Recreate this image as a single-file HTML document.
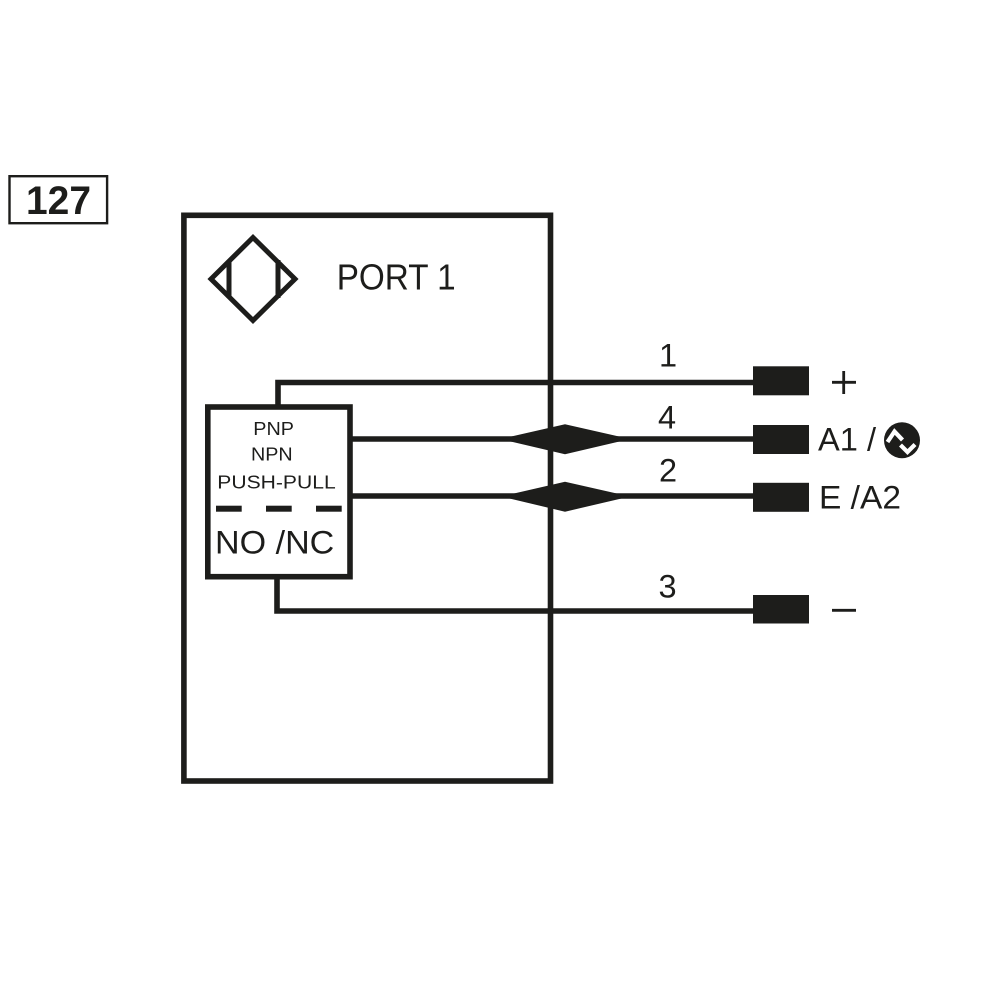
<!DOCTYPE html>
<html>
<head>
<meta charset="utf-8">
<style>
html,body{margin:0;padding:0;background:#fff;}
svg{display:block;}
text{font-family:"Liberation Sans",Arial,sans-serif;fill:#1d1d1b;}
</style>
</head>
<body>
<svg width="1000" height="1000" viewBox="0 0 1000 1000" xmlns="http://www.w3.org/2000/svg">
<rect x="0" y="0" width="1000" height="1000" fill="#fff"/>

<!-- 127 label box -->
<rect x="9.5" y="176.2" width="97.6" height="47" fill="none" stroke="#1d1d1b" stroke-width="2.4"/>
<text x="26" y="214" font-size="40" font-weight="bold" textLength="65" lengthAdjust="spacingAndGlyphs">127</text>

<!-- outer box -->
<rect x="183.9" y="215.3" width="366.6" height="565.7" fill="none" stroke="#1d1d1b" stroke-width="5.6"/>

<!-- sensor symbol -->
<polygon points="211,279 253,237.5 295,279 253,320.5" fill="none" stroke="#1d1d1b" stroke-width="5"/>
<line x1="229" y1="260" x2="229" y2="298" stroke="#1d1d1b" stroke-width="5"/>
<line x1="278" y1="260" x2="278" y2="298" stroke="#1d1d1b" stroke-width="5"/>

<text x="336.7" y="289.3" font-size="36" textLength="119" lengthAdjust="spacingAndGlyphs">PORT 1</text>

<!-- wires -->
<g fill="none" stroke="#1d1d1b" stroke-width="5.6">
<path d="M278 407 V382.5 H755"/>
<path d="M277 577 V611 H755"/>
<path d="M350 439 H755"/>
<path d="M350 496 H755"/>
</g>

<!-- inner box -->
<rect x="207.8" y="407" width="142.2" height="169.7" fill="#fff" stroke="#1d1d1b" stroke-width="5.6"/>
<text x="253.3" y="435" font-size="18.6" textLength="40.7" lengthAdjust="spacingAndGlyphs">PNP</text>
<text x="251" y="460.7" font-size="18.6" textLength="41.7" lengthAdjust="spacingAndGlyphs">NPN</text>
<text x="217.3" y="488.3" font-size="18.6" textLength="118.4" lengthAdjust="spacingAndGlyphs">PUSH-PULL</text>
<rect x="216" y="505.7" width="25.7" height="6" fill="#1d1d1b"/>
<rect x="266" y="505.7" width="25.7" height="6" fill="#1d1d1b"/>
<rect x="316" y="505.7" width="25.7" height="6" fill="#1d1d1b"/>
<text x="215" y="553.3" font-size="32" textLength="119.3" lengthAdjust="spacingAndGlyphs">NO /NC</text>

<!-- diamonds (twisted) -->
<polygon points="500,439 565,424.3 630,439 565,454.3" fill="#1d1d1b"/>
<polygon points="501,496.5 565,481.7 630,496.5 565,511.7" fill="#1d1d1b"/>

<!-- wire numbers -->
<text x="659" y="366.7" font-size="32.5">1</text>
<text x="658" y="428.3" font-size="32.5">4</text>
<text x="659" y="481.7" font-size="32.5">2</text>
<text x="658.5" y="597.3" font-size="32.5">3</text>

<!-- terminal blocks -->
<rect x="753" y="366.3" width="56" height="29" fill="#1d1d1b"/>
<rect x="753" y="425" width="56" height="29" fill="#1d1d1b"/>
<rect x="753" y="482.8" width="56" height="29" fill="#1d1d1b"/>
<rect x="753" y="595" width="56" height="28.5" fill="#1d1d1b"/>

<!-- labels -->
<line x1="832" y1="382.3" x2="856" y2="382.3" stroke="#1d1d1b" stroke-width="2.8"/>
<line x1="843.7" y1="371" x2="843.7" y2="394" stroke="#1d1d1b" stroke-width="2.8"/>
<text x="818" y="450.7" font-size="32.5" textLength="58" lengthAdjust="spacingAndGlyphs">A1 /</text>
<circle cx="902" cy="440.3" r="18" fill="#1d1d1b"/>
<polyline points="887.5,442 894.5,431.5 902.5,440" fill="none" stroke="#fff" stroke-width="4.2" stroke-linejoin="miter"/>
<polyline points="900.5,445 907.5,452 915,444.5" fill="none" stroke="#fff" stroke-width="4.2" stroke-linejoin="miter"/>
<text x="819" y="508.3" font-size="32.5" textLength="82" lengthAdjust="spacingAndGlyphs">E /A2</text>
<line x1="832" y1="610.3" x2="856" y2="610.3" stroke="#1d1d1b" stroke-width="2.8"/>
</svg>
</body>
</html>
